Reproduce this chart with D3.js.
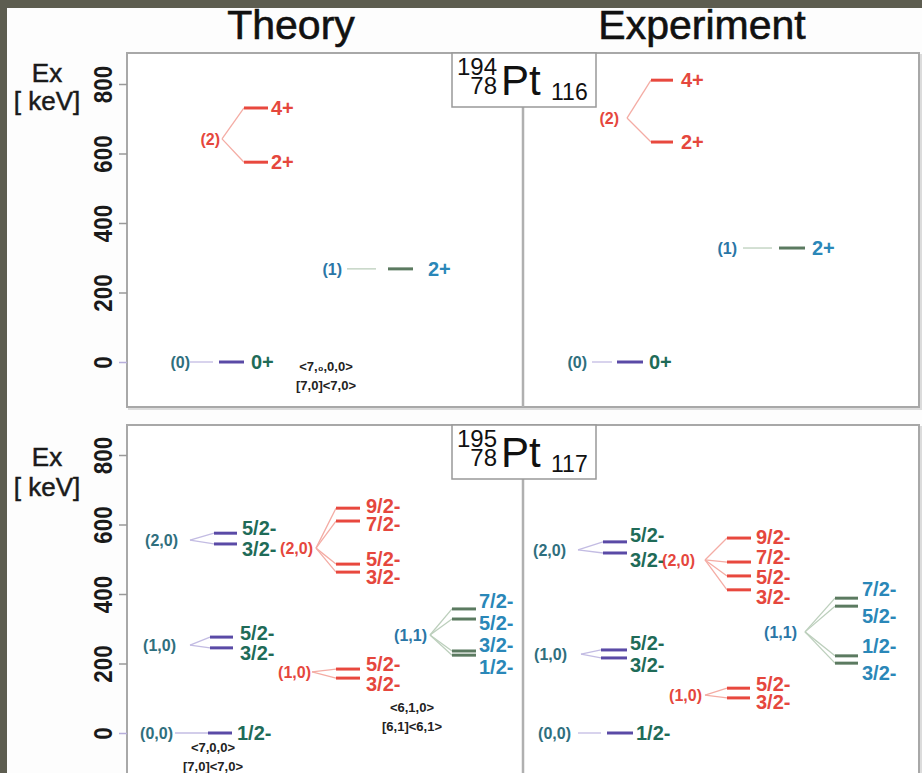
<!DOCTYPE html>
<html>
<head>
<meta charset="utf-8">
<script src="https://cdn.jsdelivr.net/npm/d3@7"></script>
<style>
  body { margin: 0; background: #5d5d50; }
  svg { display: block; }
</style>
</head>
<body>
<div id="chart"></div>
<script>
// ---- data ----
const yTicks = [0, 200, 400, 600, 800];
const columnTitles = ["Theory", "Experiment"];

// 194Pt : bands (tau), family 0 = ground, 1 = red, 2 = green/blue
const pt194Bands = ["(0)", "(1)", "(2)"];
const pt194Family = [0, 2, 1];
const pt194Spins = [["0+"], ["2+"], ["4+", "2+"]];
const pt194TheoryHead = [0, 268, 642];
const pt194TheoryEx = [[0], [268], [731, 575]];
const pt194ExpHead = [0, 328, 702];
const pt194ExpEx = [[0], [328], [811, 633]];
const pt194Reps = ["<7,\u2080,0,0>", "[7,0]<7,0>"];

// 195Pt : bands (tau1,tau2)
const pt195Bands = ["(0,0)", "(1,0)", "(2,0)", "(1,0)", "(2,0)", "(1,1)"];
const pt195Family = [0, 0, 0, 1, 1, 2];
const pt195TheorySpins = [["1/2-"], ["5/2-", "3/2-"], ["5/2-", "3/2-"], ["5/2-", "3/2-"],
  ["9/2-", "7/2-", "5/2-", "3/2-"], ["7/2-", "5/2-", "3/2-", "1/2-"]];
const pt195ExpSpins = [["1/2-"], ["5/2-", "3/2-"], ["5/2-", "3/2-"], ["5/2-", "3/2-"],
  ["9/2-", "7/2-", "5/2-", "3/2-"], ["7/2-", "5/2-", "1/2-", "3/2-"]];
const pt195TheoryHead = [0, 253, 555, 176, 532, 282];
const pt195TheoryEx = [[0], [276, 245], [575, 544], [184, 158], [647, 610, 486, 463], [357, 328, 236, 224]];
const pt195ExpHead = [0, 227, 527, 109, 498, 291];
const pt195ExpEx = [[0], [239, 216], [550, 518], [129, 101], [561, 492, 452, 412], [388, 365, 222, 201]];
const pt195Reps = [["<7,0,0>", "[7,0]<7,0>"], ["<6,1,0>", "[6,1]<6,1>"]];

// ---- layout ----
const W = 922, H = 773;
const FONT = "'Liberation Sans', Arial, Helvetica, sans-serif";
const levelColor = ["#5a4aa6", "#e8483e", "#5b7a60"];
const fanColor = ["#c3bce3", "#f4aca4", "#bccfbc"];
const bandColor = ["#2f6f7e", "#e5473d", "#2a76a6"];
const spinColor = ["#1f6b58", "#e5473d", "#2a87b8"];

// x positions of each band column: label right edge, fan start/end, level start/end, spin label x
const layout194Theory = [
  { lr: 190, fs: 190, fe: 213, ls: 219, le: 244, sx: 251, gap: 0 },
  { lr: 342, fs: 347, fe: 376, ls: 388, le: 413, sx: 428, gap: 0 },
  { lr: 220, fs: 222, fe: 244, ls: 244, le: 268, sx: 271, gap: 0 }
];
const layout194Exp = [
  { lr: 587, fs: 592, fe: 612, ls: 617, le: 643, sx: 649, gap: 0 },
  { lr: 737, fs: 743, fe: 772, ls: 779, le: 805, sx: 812, gap: 0 },
  { lr: 619, fs: 627, fe: 651, ls: 651, le: 673, sx: 681, gap: 0 }
];
const layout195Theory = [
  { lr: 173, fs: 175, fe: 208, ls: 208, le: 232, sx: 237, gap: 0 },
  { lr: 176, fs: 190, fe: 210, ls: 210, le: 233, sx: 240, gap: 20 },
  { lr: 178, fs: 190, fe: 214, ls: 214, le: 237, sx: 242, gap: 21 },
  { lr: 311, fs: 312, fe: 336, ls: 336, le: 360, sx: 366, gap: 20 },
  { lr: 313, fs: 316, fe: 336, ls: 336, le: 360, sx: 366, gap: 18 },
  { lr: 427, fs: 430, fe: 452, ls: 452, le: 476, sx: 479, gap: 22 }
];
const layout195Exp = [
  { lr: 571, fs: 578, fe: 601, ls: 607, le: 633, sx: 636, gap: 0 },
  { lr: 567, fs: 581, fe: 601, ls: 601, le: 627, sx: 630, gap: 22 },
  { lr: 566, fs: 578, fe: 603, ls: 603, le: 627, sx: 630, gap: 25 },
  { lr: 702, fs: 705, fe: 727, ls: 727, le: 750, sx: 756, gap: 18 },
  { lr: 695, fs: 705, fe: 727, ls: 727, le: 751, sx: 756, gap: 20 },
  { lr: 797, fs: 805, fe: 835, ls: 835, le: 858, sx: 862, gap: 27 }
];

const svg = d3.select("#chart").append("svg")
  .attr("width", W).attr("height", H)
  .style("font-family", FONT);

svg.append("rect").attr("width", W).attr("height", H).attr("fill", "#5d5d50");
svg.append("rect").attr("x", 7).attr("y", 8).attr("width", W - 7).attr("height", H - 8).attr("fill", "#fdfdfd");

// column titles
[291, 702].forEach((cx, i) => {
  svg.append("text").attr("x", cx).attr("y", 39).attr("text-anchor", "middle")
    .style("font-size", "41px").attr("fill", "#111")
    .attr("stroke", "#111").attr("stroke-width", 0.6).text(columnTitles[i]);
});

// spread spin labels so they don't overlap (clusters pushed apart around their mean)
function spreadLabels(ys, gap) {
  const items = ys.map((y, i) => ({ i, y })).sort((a, b) => a.y - b.y);
  let clusters = items.map(d => ({ members: [d], center: d.y }));
  let merged = true;
  while (merged && gap > 0) {
    merged = false;
    for (let k = 0; k < clusters.length - 1; k++) {
      const a = clusters[k], b = clusters[k + 1];
      const aBottom = a.center + (a.members.length - 1) * gap / 2;
      const bTop = b.center - (b.members.length - 1) * gap / 2;
      if (bTop - aBottom < gap) {
        const members = a.members.concat(b.members);
        clusters.splice(k, 2, { members, center: d3.mean(members, m => m.y) });
        merged = true;
        break;
      }
    }
  }
  const out = [];
  clusters.forEach(c => c.members.forEach((m, j) => {
    out[m.i] = c.center + (j - (c.members.length - 1) / 2) * gap;
  }));
  return out;
}

function drawBands(y, bands, family, spins, head, ex, layout) {
  const g = svg.append("g");
  bands.forEach((name, b) => {
    const L = layout[b], f = family[b];
    const yh = y(head[b]);
    const ys = ex[b].map(e => y(e));
    // fan lines
    ys.forEach(yl => {
      g.append("line").attr("x1", L.fs).attr("y1", yh).attr("x2", L.fe).attr("y2", yl)
        .attr("stroke", fanColor[f]).attr("stroke-width", 1.3);
    });
    // levels
    ys.forEach(yl => {
      g.append("line").attr("x1", L.ls).attr("y1", yl).attr("x2", L.le).attr("y2", yl)
        .attr("stroke", levelColor[f]).attr("stroke-width", 3);
    });
    // band label
    g.append("text").attr("x", L.lr).attr("y", yh).attr("dy", "0.36em")
      .attr("text-anchor", "end").style("font-size", "16px").style("font-weight", "bold")
      .attr("fill", bandColor[f]).text(name);
    // spin labels
    const ly = spreadLabels(ys, L.gap);
    ys.forEach((yl, k) => {
      g.append("text").attr("x", L.sx).attr("y", ly[k]).attr("dy", "0.36em")
        .style("font-size", "20px").style("font-weight", "bold")
        .attr("fill", spinColor[f]).text(spins[b][k]);
    });
  });
}

function repLabel(x, y, lines) {
  lines.forEach((t, i) => {
    svg.append("text").attr("x", x).attr("y", y + i * 19).attr("dy", "0.36em")
      .attr("text-anchor", "middle").style("font-size", "13px").style("font-weight", "bold")
      .attr("fill", "#222").text(t);
  });
}

const panels = [
  { top: 53, bottom: 407, zeroY: 362, exY: 82, kevY: 110, mass: "194", n: "116" },
  { top: 425, bottom: 800, zeroY: 733, exY: 466, kevY: 496, mass: "195", n: "117" }
];

panels.forEach((p, pi) => {
  const y = d3.scaleLinear().domain([0, 800]).range([p.zeroY, p.zeroY - 278]);

  // frame + divider
  svg.append("rect").attr("x", 129).attr("y", p.top + 2).attr("width", 792).attr("height", p.bottom - p.top)
    .attr("fill", "none").attr("stroke", "#dcdcdc").attr("stroke-width", 2);
  svg.append("rect").attr("x", 127).attr("y", p.top).attr("width", 792).attr("height", p.bottom - p.top)
    .attr("fill", "#fff").attr("stroke", "#a8a8a8").attr("stroke-width", 2);
  svg.append("line").attr("x1", 523).attr("x2", 523).attr("y1", p.top + 54).attr("y2", p.bottom)
    .attr("stroke", "#b0b0b0").attr("stroke-width", 2.5);

  // axis
  const ax = svg.append("g").attr("transform", "translate(127,0)")
    .call(d3.axisLeft(y).tickValues(yTicks).tickSize(8));
  ax.select(".domain").remove();
  ax.selectAll(".tick line").attr("stroke", d => d === 0 ? "#b7aedb" : "#999").attr("stroke-width", 1.5);
  ax.selectAll(".tick text")
    .attr("x", 0).attr("y", -15).attr("dy", 0)
    .attr("text-anchor", "middle")
    .attr("transform", "rotate(-90) scale(0.86,1)")
    .style("font-size", "26px").style("font-family", FONT).style("font-weight", "bold")
    .attr("fill", "#1a1a1a");

  svg.append("text").attr("x", 47).attr("y", p.exY).attr("text-anchor", "middle")
    .style("font-size", "26px").attr("fill", "#1a1a1a")
    .attr("stroke", "#1a1a1a").attr("stroke-width", 0.5).text("Ex");
  svg.append("text").attr("x", 47).attr("y", p.kevY).attr("text-anchor", "middle")
    .style("font-size", "26px").attr("fill", "#1a1a1a")
    .attr("stroke", "#1a1a1a").attr("stroke-width", 0.5).text("[ keV]");

  // nucleus box
  const bt = p.top;
  svg.append("rect").attr("x", 452).attr("y", bt).attr("width", 144).attr("height", 54)
    .attr("fill", "#fff").attr("stroke", "#999").attr("stroke-width", 1.5);
  svg.append("text").attr("x", 497).attr("y", bt + 22).attr("text-anchor", "end")
    .style("font-size", "24px").attr("fill", "#111").text(p.mass);
  svg.append("text").attr("x", 497).attr("y", bt + 41).attr("text-anchor", "end")
    .style("font-size", "24px").attr("fill", "#111").text("78");
  svg.append("text").attr("x", 501).attr("y", bt + 42)
    .style("font-size", "42px").attr("fill", "#111").text("Pt");
  svg.append("text").attr("x", 551).attr("y", bt + 47)
    .style("font-size", "23px").attr("fill", "#111").text(p.n);

  if (pi === 0) {
    drawBands(y, pt194Bands, pt194Family, pt194Spins, pt194TheoryHead, pt194TheoryEx, layout194Theory);
    drawBands(y, pt194Bands, pt194Family, pt194Spins, pt194ExpHead, pt194ExpEx, layout194Exp);
    repLabel(326, 366, pt194Reps);
  } else {
    drawBands(y, pt195Bands, pt195Family, pt195TheorySpins, pt195TheoryHead, pt195TheoryEx, layout195Theory);
    drawBands(y, pt195Bands, pt195Family, pt195ExpSpins, pt195ExpHead, pt195ExpEx, layout195Exp);
    repLabel(213, 747, pt195Reps[0]);
    repLabel(412, 707, pt195Reps[1]);
  }
});
</script>
</body>
</html>
